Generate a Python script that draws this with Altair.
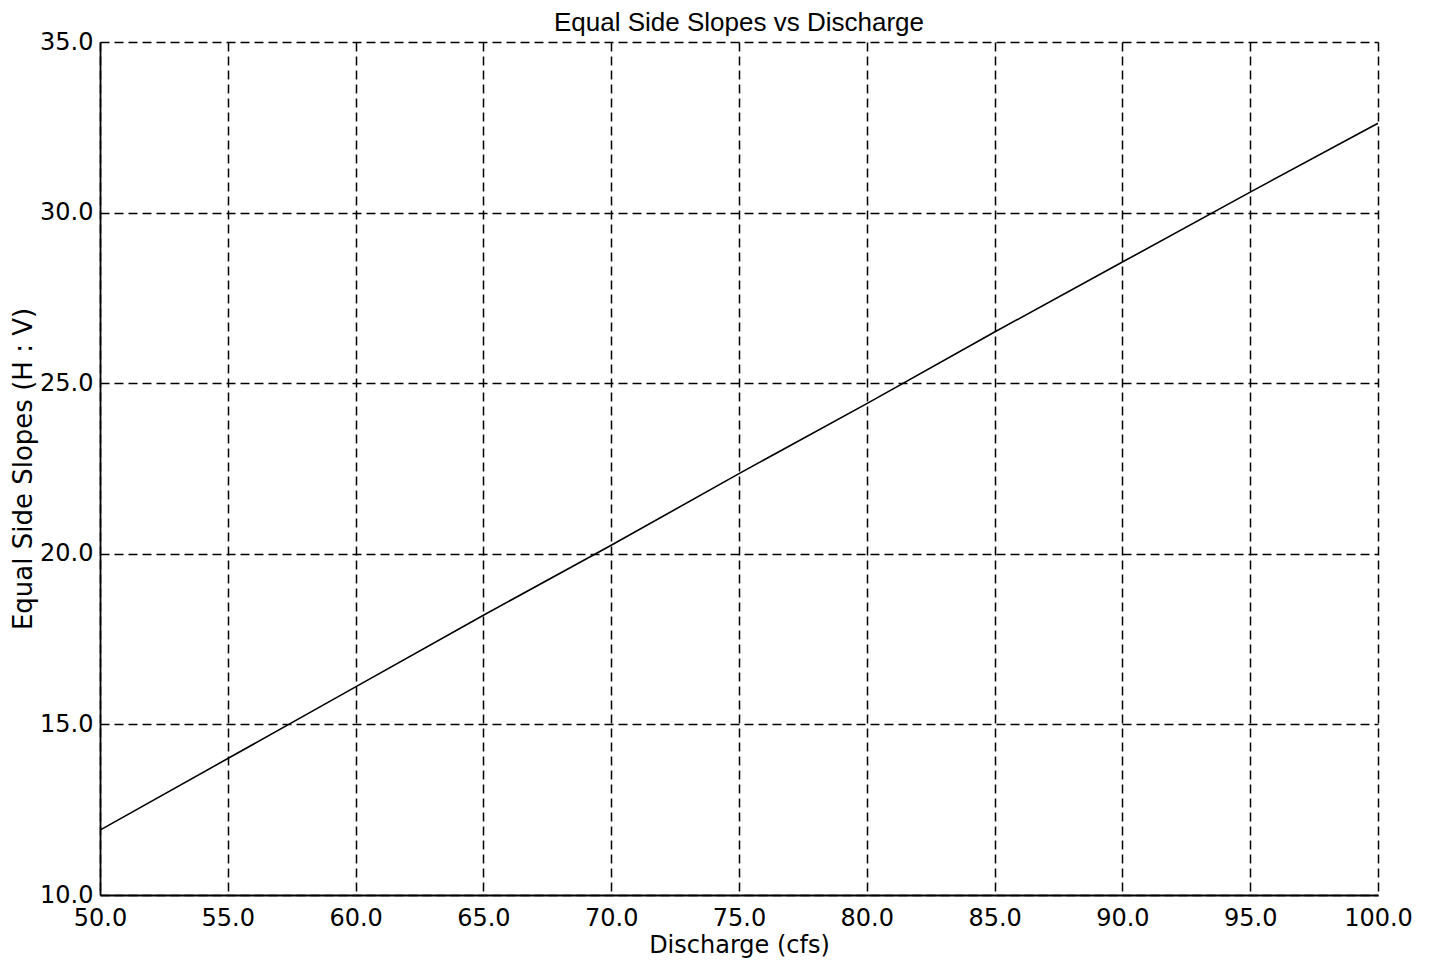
import altair as alt
import pandas as pd

discharge = [50, 55, 60, 65, 70, 75, 80, 85, 90, 95, 100]
slopes = [11.9, 14.0, 16.1, 18.2, 20.25, 22.35, 24.4, 26.5, 28.55, 30.6, 32.62]

df = pd.DataFrame({"Discharge": discharge, "Slope": slopes})

TFONT = "Liberation Sans"
AFONT = "DejaVu Sans"

x_ticks = [50, 55, 60, 65, 70, 75, 80, 85, 90, 95, 100]
y_ticks = [10, 15, 20, 25, 30, 35]

common = dict(
    format=".1f", grid=True, gridColor="black", gridDash=[9, 5], gridOpacity=1,
    gridWidth=1.5, domainColor="black", domainWidth=1.8, ticks=False,
    labelFont=AFONT, labelFontSize=24, labelColor="black", labelFlush=False,
    titleFont=AFONT, titleFontWeight="normal", titleColor="black",
)

line = alt.Chart(df).mark_line(color="black", strokeWidth=1.6).encode(
    x=alt.X("Discharge:Q",
            scale=alt.Scale(domain=[50, 100], nice=False, zero=False),
            axis=alt.Axis(values=x_ticks, title="Discharge (cfs)",
                          labelPadding=11, titleFontSize=24, titlePadding=3,
                          **common)),
    y=alt.Y("Slope:Q",
            scale=alt.Scale(domain=[10, 35], nice=False, zero=False),
            axis=alt.Axis(values=y_ticks, title="Equal Side Slopes (H : V)",
                          labelPadding=7, titleFontSize=26, titlePadding=3,
                          **common)),
)

chart = line.properties(
    width=1278,
    height=853,
    title=alt.TitleParams("Equal Side Slopes vs Discharge", font=TFONT, fontSize=26,
                          fontWeight="normal", color="black", offset=-6),
    autosize=alt.AutoSizeParams(type="none"),
    padding={"left": 92, "top": 34, "right": 40, "bottom": 85},
).configure_view(stroke=None)

chart.save("out.html", embed_options={"renderer": "svg", "actions": False})
